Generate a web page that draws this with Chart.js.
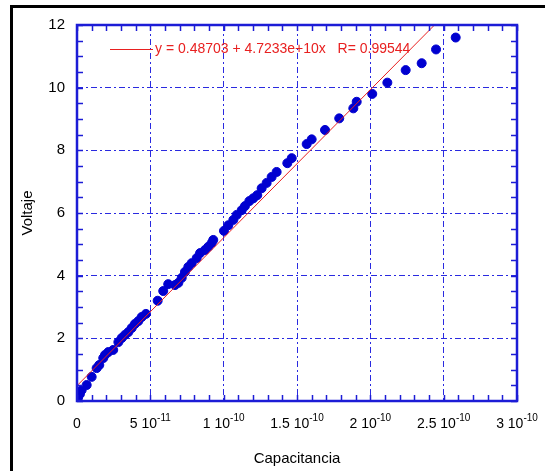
<!DOCTYPE html>
<html>
<head>
<meta charset="utf-8">
<script src="https://cdn.jsdelivr.net/npm/chart.js@4"></script>
<style>
    body { margin: 0; background: #fff; }
    #wrap { position: relative; width: 545px; height: 471px; }
    #frame {
        position: absolute; left: 10px; top: 5px; right: -5px; bottom: -5px;
        border-left: 3px solid #000; border-top: 3px solid #000;
        pointer-events: none;
    }
</style>
</head>
<body>
<div id="wrap">
    <canvas id="chart"></canvas>
    <div id="frame"></div>
</div>
<script>
// measured points (capacitance in pF, voltage in V)
const capacitancePF = [
    0, 0.7, 2.0, 3.2, 6.6, 10.0, 13.4, 15.2, 17.9, 19.1,
    21.3, 24.7, 28.2, 30.5, 32.7, 35.0, 37.3, 39.5, 41.8, 44.1,
    47.0, 55.0, 58.8, 62.2, 66.8, 69.1, 71.4, 73.6, 75.9, 78.2,
    81.6, 83.9, 87.3, 89.5, 91.8, 92.9, 100.2, 103.2, 106.6, 108.9,
    112.3, 114.5, 117.5, 120.2, 122.9, 125.9, 129.3, 132.7, 136.1, 143.4,
    146.4, 156.6, 160.0, 169.1, 178.8, 188.4, 190.7, 201.3, 211.6, 224.1,
    235.0, 244.8, 258.2
];
const voltage = [
    0.03, 0.10, 0.22, 0.35, 0.51, 0.77, 1.05, 1.15, 1.37, 1.47,
    1.56, 1.63, 1.88, 2.01, 2.11, 2.20, 2.33, 2.46, 2.55, 2.68,
    2.78, 3.20, 3.51, 3.73, 3.70, 3.77, 3.93, 4.12, 4.28, 4.40,
    4.56, 4.72, 4.82, 4.92, 5.04, 5.14, 5.43, 5.61, 5.78, 5.94,
    6.09, 6.22, 6.38, 6.47, 6.57, 6.79, 6.96, 7.15, 7.31, 7.59,
    7.75, 8.20, 8.35, 8.65, 9.02, 9.34, 9.55, 9.80, 10.16, 10.56,
    10.78, 11.22, 11.60
];

// linear fit shown in the legend
const fitIntercept = 0.48703;
const fitSlope = 4.7233e10;
const fitR = 0.99544;
const fitLabel = "y = 0.48703 + 4.7233e+10x   R= 0.99544";

// axes
const xMin = 0, xMax = 3e-10, xStep = 5e-11, xMinorStep = 1e-11;
const yMin = 0, yMax = 12, yStep = 2, yMinorStep = 0.5;

const BLUE = "#1c1cd6";
const GRID_BLUE = "#2a2ae0";
const POINT_BLUE = "#0000d0";
const RED = "#e82020";
const FONT = "'Liberation Sans', Arial, sans-serif";

const points = capacitancePF.map((c, i) => ({ x: c * 1e-12, y: voltage[i] }));
const fitLine = [xMin, xMax].map(x => ({ x: x, y: fitIntercept + fitSlope * x }));

// tick label like "5 10^-11"
function sciParts(v) {
    if (v === 0) return { main: "0", exp: "" };
    const e = Math.floor(Math.log10(v) + 1e-9);
    const m = Math.round(v / Math.pow(10, e) * 100) / 100;
    return { main: m + " 10", exp: String(e) };
}

const framePlugin = {
    id: "frame",
    afterDraw(chart) {
        const ctx = chart.ctx;
        const a = chart.chartArea;
        const xs = chart.scales.x, ys = chart.scales.y;
        ctx.save();

        // minor ticks, inward on all four sides
        ctx.strokeStyle = BLUE;
        ctx.lineWidth = 1.5;
        ctx.beginPath();
        const nx = Math.round((xMax - xMin) / xMinorStep);
        for (let i = 0; i <= nx; i++) {
            const px = Math.round(xs.getPixelForValue(xMin + i * xMinorStep)) + 0.5;
            ctx.moveTo(px, a.bottom); ctx.lineTo(px, a.bottom - 6);
            ctx.moveTo(px, a.top); ctx.lineTo(px, a.top + 6);
        }
        const ny = Math.round((yMax - yMin) / yMinorStep);
        for (let i = 0; i <= ny; i++) {
            const py = Math.round(ys.getPixelForValue(yMin + i * yMinorStep)) + 0.5;
            ctx.moveTo(a.left, py); ctx.lineTo(a.left + 6, py);
            ctx.moveTo(a.right, py); ctx.lineTo(a.right - 6, py);
        }
        ctx.stroke();

        // plot frame
        ctx.lineWidth = 2.5;
        ctx.strokeRect(a.left, a.top, a.right - a.left, a.bottom - a.top);

        // x tick labels with superscript exponent
        ctx.fillStyle = "#000";
        ctx.textBaseline = "alphabetic";
        xs.ticks.forEach(t => {
            const p = sciParts(t.value);
            const px = xs.getPixelForValue(t.value);
            ctx.font = "14px " + FONT;
            const w1 = ctx.measureText(p.main).width;
            ctx.font = "10px " + FONT;
            const w2 = p.exp ? ctx.measureText(p.exp).width : 0;
            const x0 = px - (w1 + w2) / 2;
            ctx.font = "14px " + FONT;
            ctx.textAlign = "left";
            ctx.fillText(p.main, x0, a.bottom + 27);
            if (p.exp) {
                ctx.font = "10px " + FONT;
                ctx.fillText(p.exp, x0 + w1, a.bottom + 20);
            }
        });

        // legend: red sample line + equation
        const ly = a.top + 24;
        ctx.strokeStyle = RED;
        ctx.lineWidth = 1;
        ctx.beginPath();
        ctx.moveTo(a.left + 33, ly + 0.5);
        ctx.lineTo(a.left + 76, ly + 0.5);
        ctx.stroke();
        ctx.fillStyle = RED;
        ctx.font = "14px " + FONT;
        ctx.textBaseline = "middle";
        ctx.fillText(chart.data.datasets[0].label, a.left + 78, ly);

        ctx.restore();
    }
};

const gridDash = [6, 3, 2, 3];

new Chart(document.getElementById("chart"), {
    type: "scatter",
    data: {
        datasets: [
            {
                type: "line",
                label: fitLabel,
                data: fitLine,
                borderColor: RED,
                borderWidth: 1,
                pointRadius: 0,
                fill: false,
                order: 0
            },
            {
                label: "Voltaje",
                data: points,
                backgroundColor: POINT_BLUE,
                borderColor: POINT_BLUE,
                borderWidth: 1,
                pointRadius: 4.5,
                order: 1
            }
        ]
    },
    options: {
        responsive: true,
        maintainAspectRatio: false,
        animation: false,
        layout: { padding: { left: 0, top: 25, right: 28, bottom: 0 } },
        plugins: {
            legend: { display: false },
            tooltip: { enabled: false }
        },
        scales: {
            x: {
                type: "linear",
                min: xMin,
                max: xMax,
                afterFit: s => { s.height = 70; },
                ticks: { display: false, stepSize: xStep, autoSkip: false },
                grid: { color: GRID_BLUE, lineWidth: 1, drawTicks: false },
                border: { display: false, dash: gridDash },
                title: {
                    display: true,
                    text: "Capacitancia",
                    color: "#000",
                    font: { family: FONT, size: 15 },
                    padding: { top: 0, bottom: 3 }
                }
            },
            y: {
                min: yMin,
                max: yMax,
                afterFit: s => { s.width = 77; },
                ticks: {
                    stepSize: yStep,
                    color: "#000",
                    padding: 12,
                    font: { family: FONT, size: 15 }
                },
                grid: { color: GRID_BLUE, lineWidth: 1, drawTicks: false },
                border: { display: false, dash: gridDash },
                title: {
                    display: true,
                    text: "Voltaje",
                    color: "#000",
                    font: { family: FONT, size: 15 },
                    padding: { top: 19, bottom: 0 }
                }
            }
        }
    },
    plugins: [framePlugin]
});
</script>
</body>
</html>
